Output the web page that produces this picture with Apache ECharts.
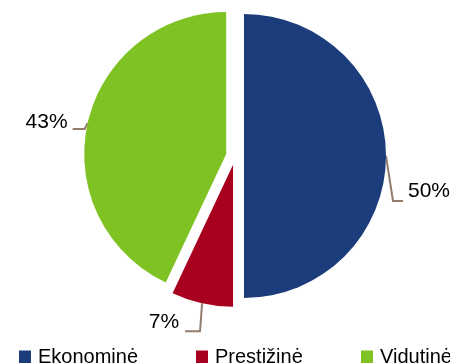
<!DOCTYPE html>
<html>
<head>
<meta charset="utf-8">
<script src="https://cdn.jsdelivr.net/npm/echarts@6/dist/echarts.min.js"></script>
<style>
html,body{margin:0;padding:0;background:#fff;}
#chart{width:450px;height:363px;}
</style>
</head>
<body>
<div id="chart"></div>
<script>
const categories = ['Ekonominė', 'Prestižinė', 'Vidutinė'];
const values = [50, 7, 43];
const colors = ['#1C3D7B', '#A8001F', '#7EC323'];

const FONT = "'Liberation Sans', Arial, sans-serif";
const CX = 235, CY = 156, R = 142, OFF = 9;

// label line bends relative to the slice edge (dx,dy), then horizontal run, text offset
const labelCfg = [
  {b: [7, 45], h: 10, tx: 5, ty: -9.5, align: 'left'},
  {b: [-2, 28], h: -15, tx: -6, ty: -9, align: 'right'},
  {b: [-3, 6], h: -12, tx: -5, ty: -7, align: 'right'}
];

const total = values.reduce((a, b) => a + b, 0);
const mids = [];
let acc = 0;
values.forEach(v => { mids.push((acc + v / 2) / total * Math.PI * 2); acc += v; });

const chart = echarts.init(document.getElementById('chart'), null, {renderer: 'canvas'});

const legends = categories.map((c, i) => ({
  data: [{name: c, itemStyle: {color: colors[i]}}],
  left: [14, 191, 356][i],
  top: 342,
  orient: 'horizontal',
  itemWidth: 12,
  itemHeight: 13,
  icon: 'rect',
  selectedMode: false,
  textStyle: {fontFamily: FONT, fontSize: 20, color: '#000', padding: [0, 0, 0, 2]}
}));

// one series per slice, each shifted outward along its mid angle (exploded pie)
const series = categories.map((c, k) => {
  const th = mids[k];
  const cx = CX + Math.sin(th) * OFF;
  const cy = CY - Math.cos(th) * OFF;
  const cfg = labelCfg[k];
  return {
    type: 'pie',
    center: [cx, cy],
    radius: [0, R],
    startAngle: 90,
    clockwise: true,
    avoidLabelOverlap: false,
    emphasis: {disabled: true},
    silent: true,
    data: categories.map((n, i) => ({
      name: n,
      value: values[i],
      itemStyle: {color: i === k ? colors[i] : 'rgba(0,0,0,0)', borderWidth: 0},
      label: {show: i === k},
      labelLine: {show: i === k}
    })),
    label: {
      position: 'outside',
      formatter: '{d}%',
      fontFamily: FONT,
      fontSize: 21,
      color: '#000'
    },
    labelLine: {
      lineStyle: {color: '#947C6C', width: 2}
    },
    labelLayout: function (params) {
      if (params.dataIndex !== k) return {};
      const ex = cx + Math.sin(th) * R;
      const ey = cy - Math.cos(th) * R;
      const bx = ex + cfg.b[0], by = ey + cfg.b[1];
      const hx = bx + cfg.h, hy = by;
      return {
        x: hx + cfg.tx,
        y: hy + cfg.ty,
        align: cfg.align,
        verticalAlign: 'middle',
        labelLinePoints: [[ex, ey], [bx, by], [hx, hy]]
      };
    }
  };
});

chart.setOption({
  animation: false,
  color: colors,
  legend: legends,
  series: series
});
</script>
</body>
</html>
